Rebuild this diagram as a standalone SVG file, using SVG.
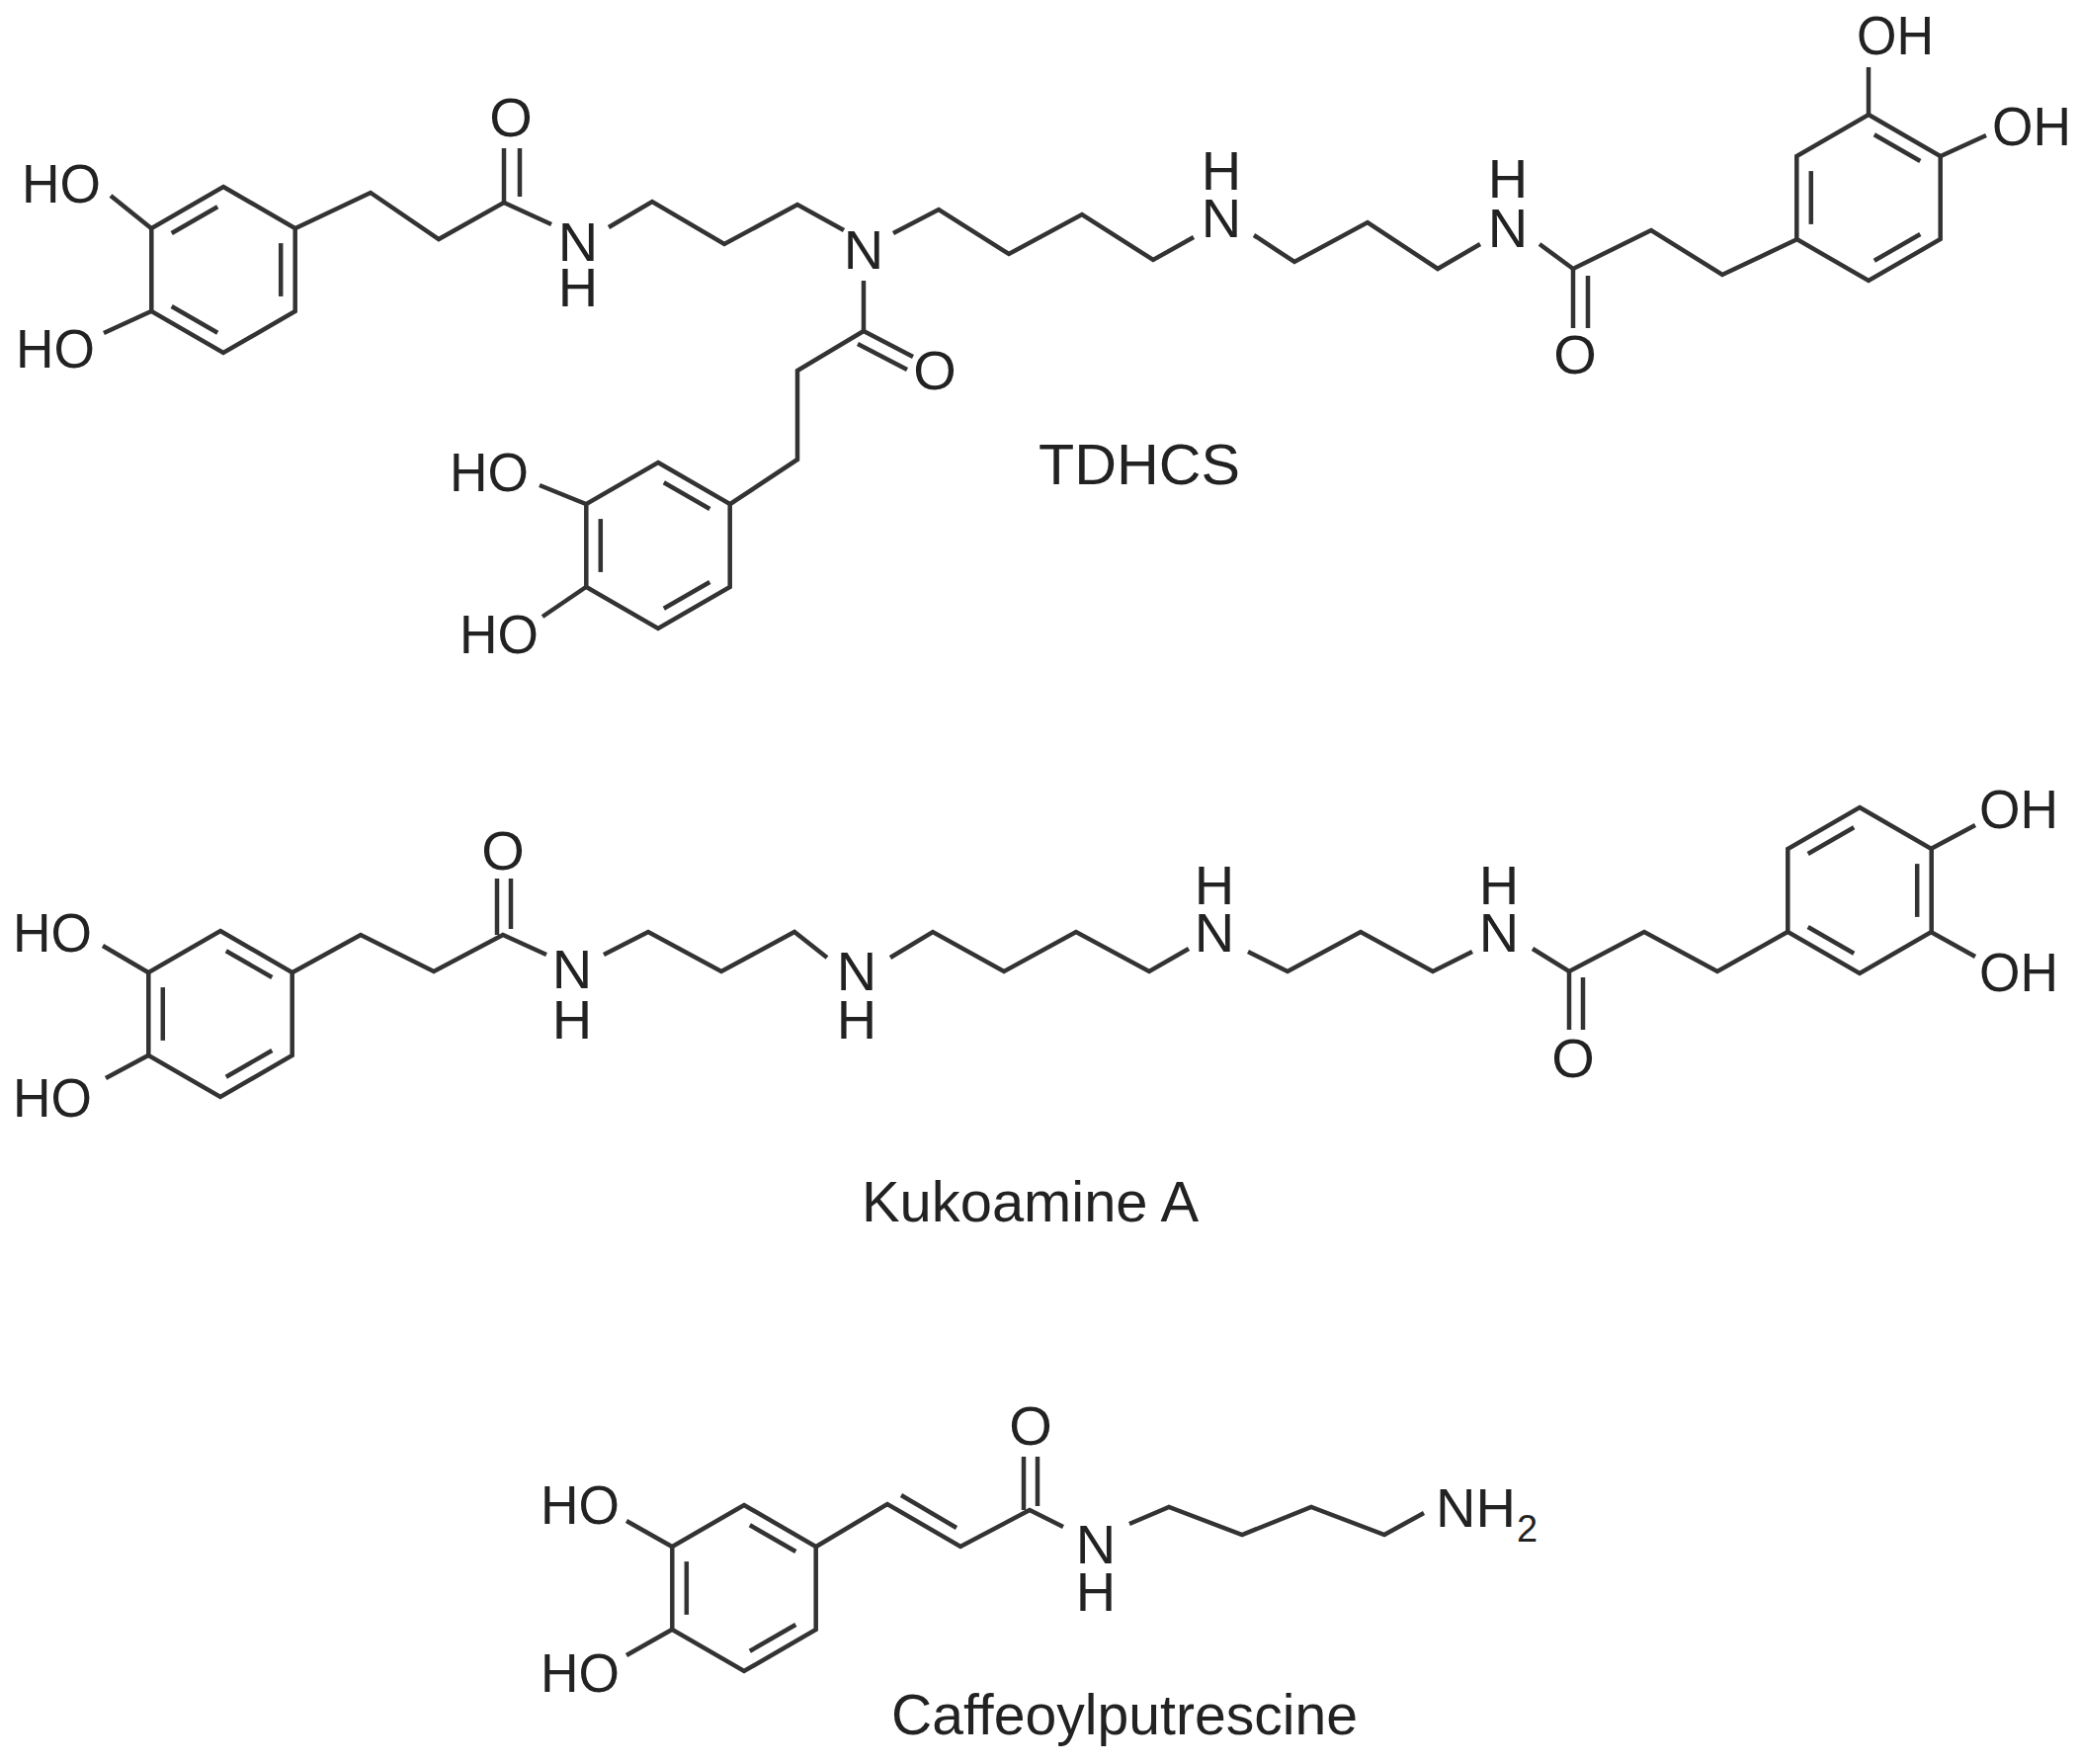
<svg xmlns="http://www.w3.org/2000/svg" xmlns:xlink="http://www.w3.org/1999/xlink" width="2105" height="1785" viewBox="0 0 2105 1785">
<style>
.b{fill:none;stroke:#333;stroke-width:4.5;stroke-linejoin:miter;stroke-linecap:butt}
.a{font-family:"Liberation Sans",Arial,sans-serif;font-size:56px;fill:#222}
.m{text-anchor:middle}
.lbl{font-family:"Liberation Sans",Arial,sans-serif;font-size:58px;fill:#222}
.s{font-size:38px}
</style>
<defs>
<g id="ringA" class="b">
<polygon points="0,-84 72.7,-42 72.7,42 0,84 -72.7,42 -72.7,-42"/>
<line x1="-52.3" y1="-37" x2="-5.8" y2="-63.8"/>
<line x1="58.2" y1="-26.9" x2="58.2" y2="26.9"/>
<line x1="-52.3" y1="37" x2="-5.8" y2="63.8"/>
</g>
<g id="ringB" class="b">
<polygon points="0,-84 72.7,-42 72.7,42 0,84 -72.7,42 -72.7,-42"/>
<line x1="5.8" y1="-63.8" x2="52.3" y2="-37"/>
<line x1="-58.2" y1="-26.9" x2="-58.2" y2="26.9"/>
<line x1="5.8" y1="63.8" x2="52.3" y2="37"/>
</g>
</defs>
<rect width="2105" height="1785" fill="#fff"/>

<g id="tdhcs">
<use xlink:href="#ringA" href="#ringA" transform="translate(226,273)"/>
<use xlink:href="#ringB" href="#ringB" transform="translate(666,552)"/>
<use xlink:href="#ringB" href="#ringB" transform="translate(1891,200)"/>
<g class="b">
<line x1="112" y1="198" x2="153" y2="231"/>
<line x1="105" y1="337" x2="153" y2="315"/>
<polyline points="299,231 375,195 444,242 510,205 558,227"/>
<line x1="510" y1="205" x2="510" y2="150"/>
<line x1="526" y1="199" x2="526" y2="150"/>
<polyline points="616,230 660,204 733,247 807,207 854,233"/>
<polyline points="904,236 950,212 1021,257 1095,217 1167,263 1208,240"/>
<polyline points="1269,238 1310,265 1384,225 1455,272 1498,247"/>
<polyline points="1558,247 1592,272 1671,233 1743,278 1819,242"/>
<line x1="1592" y1="272" x2="1592" y2="332"/>
<line x1="1607" y1="279" x2="1607" y2="332"/>
<line x1="1891" y1="116" x2="1891" y2="68"/>
<line x1="1964" y1="158" x2="2010" y2="137"/>
<line x1="874" y1="284" x2="874" y2="335"/>
<line x1="874" y1="335" x2="924" y2="361"/>
<line x1="868" y1="348" x2="918" y2="374"/>
<polyline points="874,335 807,375 807,465 739,510"/>
<line x1="546" y1="491" x2="593" y2="510"/>
<line x1="549" y1="624" x2="593" y2="594"/>
</g>
<text class="a" x="22" y="205" textLength="80" lengthAdjust="spacingAndGlyphs">HO</text>
<text class="a" x="16" y="372" textLength="80" lengthAdjust="spacingAndGlyphs">HO</text>
<text class="a m" x="517" y="138">O</text>
<text class="a m" x="585" y="264">N</text>
<text class="a m" x="585" y="310">H</text>
<text class="a m" x="874" y="272">N</text>
<text class="a m" x="1236" y="240">N</text>
<text class="a m" x="1236" y="192">H</text>
<text class="a m" x="1526" y="250">N</text>
<text class="a m" x="1526" y="200">H</text>
<text class="a m" x="1594" y="378">O</text>
<text class="a m" x="946" y="394">O</text>
<text class="a" x="1879" y="55" textLength="78" lengthAdjust="spacingAndGlyphs">OH</text>
<text class="a" x="2016" y="147" textLength="80" lengthAdjust="spacingAndGlyphs">OH</text>
<text class="a" x="455" y="497" textLength="80" lengthAdjust="spacingAndGlyphs">HO</text>
<text class="a" x="465" y="661" textLength="80" lengthAdjust="spacingAndGlyphs">HO</text>
<text class="lbl" x="1051" y="490" textLength="204" lengthAdjust="spacingAndGlyphs">TDHCS</text>
</g>

<g id="kukoamine">
<use xlink:href="#ringB" href="#ringB" transform="translate(223,1026)"/>
<use xlink:href="#ringA" href="#ringA" transform="translate(1882,901)"/>
<g class="b">
<line x1="104" y1="957" x2="150" y2="984"/>
<line x1="107" y1="1091" x2="150" y2="1068"/>
<polyline points="296,984 365,946 439,983 509,946 553,966"/>
<line x1="503" y1="946" x2="503" y2="889"/>
<line x1="517" y1="940" x2="517" y2="889"/>
<polyline points="611,966 656,943 730,983 804,943 837,969"/>
<polyline points="901,969 944,943 1016,983 1089,943 1163,983 1203,960"/>
<polyline points="1263,963 1303,983 1377,943 1450,983 1490,963"/>
<polyline points="1551,960 1588,983 1664,943 1738,983 1809,943"/>
<line x1="1588" y1="983" x2="1588" y2="1042"/>
<line x1="1602" y1="989" x2="1602" y2="1042"/>
<line x1="1954" y1="859" x2="1999" y2="835"/>
<line x1="1954" y1="943" x2="1999" y2="968"/>
</g>
<text class="a" x="13" y="963" textLength="80" lengthAdjust="spacingAndGlyphs">HO</text>
<text class="a" x="13" y="1130" textLength="80" lengthAdjust="spacingAndGlyphs">HO</text>
<text class="a m" x="509" y="880">O</text>
<text class="a m" x="579" y="1000">N</text>
<text class="a m" x="579" y="1051">H</text>
<text class="a m" x="867" y="1002">N</text>
<text class="a m" x="867" y="1051">H</text>
<text class="a m" x="1229" y="963">N</text>
<text class="a m" x="1229" y="915">H</text>
<text class="a m" x="1517" y="963">N</text>
<text class="a m" x="1517" y="915">H</text>
<text class="a m" x="1592" y="1090">O</text>
<text class="a" x="2003" y="838" textLength="80" lengthAdjust="spacingAndGlyphs">OH</text>
<text class="a" x="2003" y="1003" textLength="80" lengthAdjust="spacingAndGlyphs">OH</text>
<text class="lbl" x="872" y="1236" textLength="341" lengthAdjust="spacingAndGlyphs">Kukoamine A</text>
</g>

<g id="caffeoylputrescine">
<use xlink:href="#ringB" href="#ringB" transform="translate(753,1607)"/>
<g class="b">
<line x1="634" y1="1539" x2="680" y2="1565"/>
<line x1="634" y1="1675" x2="680" y2="1649"/>
<polyline points="826,1565 898,1522 972,1565 1042,1528 1076,1545"/>
<line x1="912" y1="1513" x2="968" y2="1546"/>
<line x1="1036" y1="1528" x2="1036" y2="1474"/>
<line x1="1050" y1="1524" x2="1050" y2="1474"/>
<polyline points="1143,1542 1183,1525 1257,1553 1327,1525 1401,1553 1441,1531"/>
</g>
<text class="a" x="547" y="1542" textLength="80" lengthAdjust="spacingAndGlyphs">HO</text>
<text class="a" x="547" y="1712" textLength="80" lengthAdjust="spacingAndGlyphs">HO</text>
<text class="a m" x="1043" y="1462">O</text>
<text class="a m" x="1109" y="1582">N</text>
<text class="a m" x="1109" y="1630">H</text>
<text class="a" x="1453" y="1545" textLength="81" lengthAdjust="spacingAndGlyphs">NH</text>
<text class="a s" x="1535" y="1560">2</text>
<text class="lbl" x="902" y="1755" textLength="472" lengthAdjust="spacingAndGlyphs">Caffeoylputrescine</text>
</g>
</svg>
